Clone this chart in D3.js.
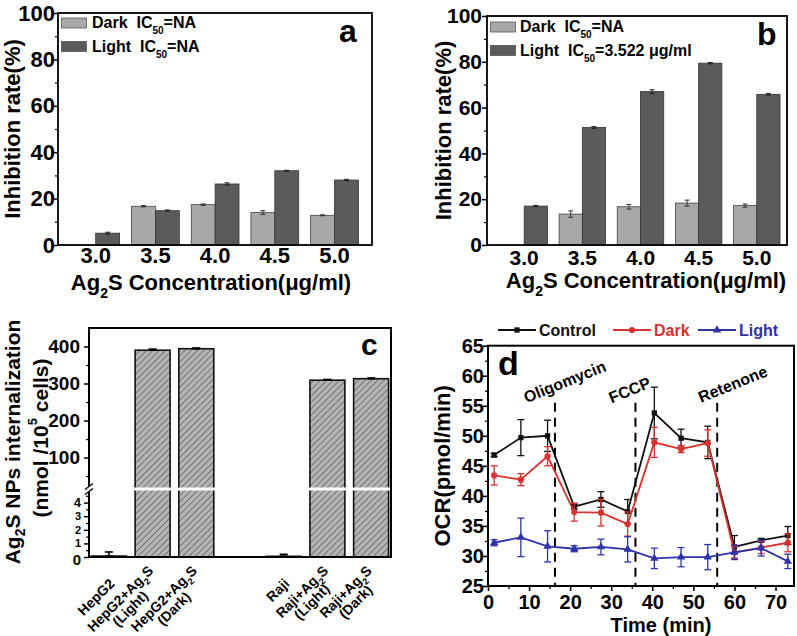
<!DOCTYPE html>
<html>
<head>
<meta charset="utf-8">
<script src="https://cdn.jsdelivr.net/npm/d3@7"></script>
<style>
body { margin: 0; background: #fff; }
svg text { font-family: "Liberation Sans", Arial, sans-serif; font-weight: bold; }
</style>
</head>
<body>
<svg id="fig" width="797" height="636"></svg>
<script>
// ---- data ----
const concentrations = [3.0, 3.5, 4.0, 4.5, 5.0];
const concLabels = ["3.0", "3.5", "4.0", "4.5", "5.0"];
const rateTicks = [0, 20, 40, 60, 80, 100];
const rateMinor = [10, 30, 50, 70, 90];

// panel a
const aDark = [0, 16.7, 17.4, 14.0, 12.8];
const aDarkErr = [0, 0.3, 0.3, 0.8, 0.2];
const aLight = [5.1, 14.8, 26.3, 32.0, 28.0];
const aLightErr = [0.4, 0.3, 0.5, 0.2, 0.3];
// panel b
const bDark = [0, 13.5, 16.7, 18.3, 17.2];
const bDarkErr = [0, 1.4, 1.0, 1.3, 0.7];
const bLight = [17.0, 51.3, 67.0, 79.4, 65.8];
const bLightErr = [0.3, 0.4, 0.8, 0.3, 0.4];

// panel c
const cellKeys = ["hep", "hepL", "hepD", "gap", "raji", "rajiL", "rajiD"];
const cellLabels = [["HepG2"], ["HepG2+Ag{_2}S", "(Light)"], ["HepG2+Ag{_2}S", "(Dark)"], [],
                    ["Raji"], ["Raji+Ag{_2}S", "(Light)"], ["Raji+Ag{_2}S", "(Dark)"]];
const uptake = [0.07, 390, 394, null, 0.05, 309, 313];
const uptakeErr = [0.3, 3, 2, null, 0.15, 2, 2];
const uptakeTicksLow = [0, 1, 2, 3, 4];
const uptakeMinorLow = [0.5, 1.5, 2.5, 3.5, 4.5];
const uptakeTicksHigh = [100, 200, 300, 400];
const uptakeMinorHigh = [50, 150, 250, 350];

// panel d
const times = [1.5, 8, 14.5, 21, 27.5, 34, 40.5, 47, 53.5, 60, 66.5, 73];
const ocrControl = [46.8, 49.7, 50.0, 38.2, 39.4, 37.4, 53.8, 49.6, 48.9, 31.5, 32.6, 33.4];
const ocrControlErr = [0.3, 3.0, 2.6, 0.4, 1.3, 2.0, 4.3, 1.5, 2.7, 1.9, 0.3, 1.5];
const ocrDark = [43.4, 42.7, 46.6, 37.3, 37.2, 35.3, 48.9, 47.8, 48.8, 30.6, 31.4, 32.2];
const ocrDarkErr = [1.6, 1.0, 1.6, 1.5, 2.2, 2.0, 2.5, 0.6, 2.2, 1.0, 1.0, 1.5];
const ocrLight = [32.2, 33.1, 31.6, 31.2, 31.5, 31.1, 29.6, 29.8, 29.8, 30.6, 31.3, 29.1];
const ocrLightErr = [0.5, 3.2, 2.6, 0.5, 1.3, 2.1, 1.7, 1.6, 2.1, 1.2, 1.3, 1.2];
const ocrTicks = [25, 30, 35, 40, 45, 50, 55, 60, 65];
const ocrMinor = [27.5, 32.5, 37.5, 42.5, 47.5, 52.5, 57.5, 62.5];
const timeTicks = [0, 10, 20, 30, 40, 50, 60, 70];
const timeMinor = [5, 15, 25, 35, 45, 55, 65];
const injections = [
    {name: "Oligomycin", t: 16.3, labelT: 18.7, labelV: 59.0},
    {name: "FCCP", t: 35.9, labelT: 34.5, labelV: 57.6},
    {name: "Retenone", t: 55.8, labelT: 59.6, labelV: 58.6}
];

// ---- helpers ----
let svg = d3.select("#fig");
let defs = svg.append("defs");
let hatch = defs.append("pattern")
    .attr("id", "hatch")
    .attr("patternUnits", "userSpaceOnUse")
    .attr("width", 4.5).attr("height", 4.5)
    .attr("patternTransform", "rotate(45)");
hatch.append("rect").attr("width", 4.5).attr("height", 4.5).attr("fill", "#b4b4b4");
hatch.append("line").attr("x1", 0).attr("y1", 0).attr("x2", 0).attr("y2", 4.5)
    .attr("stroke", "#666").attr("stroke-width", 1.6);

// text with {_x} subscripts and {^x} superscripts
function rich(sel, str, small) {
    str.split(/(\{[_^][^}]*\})/).forEach((p) => {
        if (!p) return;
        let m = p.match(/^\{([_^])(.*)\}$/);
        if (m) {
            sel.append("tspan")
                .attr("baseline-shift", m[1] === "_" ? "sub" : "super")
                .attr("font-size", small)
                .text(m[2]);
        } else {
            sel.append("tspan").text(p);
        }
    });
    return sel;
}

function styleAxis(g, size, width) {
    g.select(".domain").remove();
    g.selectAll("line").attr("stroke", "#000").attr("stroke-width", width);
    g.attr("font-size", size).attr("font-family", null);
}

function errorBars(g, data, xf, lowf, highf, cap, color, width) {
    let eb = g.append("g").attr("stroke", color).attr("stroke-width", width);
    data.forEach((d) => {
        let cx = xf(d), y1 = lowf(d), y2 = highf(d);
        eb.append("line").attr("x1", cx).attr("x2", cx).attr("y1", y1).attr("y2", y2);
        eb.append("line").attr("x1", cx - cap / 2).attr("x2", cx + cap / 2).attr("y1", y1).attr("y2", y1);
        eb.append("line").attr("x1", cx - cap / 2).attr("x2", cx + cap / 2).attr("y1", y2).attr("y2", y2);
    });
}

// ---- panels a and b ----
function ratePanel(opt) {
    let g = svg.append("g");
    let x = d3.scaleLinear().domain(opt.xDomain).range([opt.left, opt.right]);
    let y = d3.scaleLinear().domain([0, 100]).range([opt.bottom, opt.top]);
    let bw = x(0.2) - x(0);

    let rows = concentrations.map((c, i) => ({
        c: c, dark: opt.dark[i], darkErr: opt.darkErr[i], light: opt.light[i], lightErr: opt.lightErr[i]
    }));
    let withDark = rows.filter((d) => d.dark > 0);

    g.selectAll(".dark").data(withDark).join("rect")
        .attr("x", (d) => x(d.c) - bw)
        .attr("y", (d) => y(d.dark))
        .attr("width", bw)
        .attr("height", (d) => y(0) - y(d.dark))
        .attr("fill", "#a8a8a8").attr("stroke", "#444").attr("stroke-width", 0.8);
    g.selectAll(".light").data(rows).join("rect")
        .attr("x", (d) => x(d.c))
        .attr("y", (d) => y(d.light))
        .attr("width", bw)
        .attr("height", (d) => y(0) - y(d.light))
        .attr("fill", "#5b5b5b").attr("stroke", "#333").attr("stroke-width", 0.8);

    errorBars(g, withDark, (d) => x(d.c) - bw / 2, (d) => y(d.dark - d.darkErr), (d) => y(d.dark + d.darkErr), 5, "#333", 1);
    errorBars(g, rows, (d) => x(d.c) + bw / 2, (d) => y(d.light - d.lightErr), (d) => y(d.light + d.lightErr), 5, "#222", 1);

    let ya = g.append("g").attr("transform", "translate(" + opt.left + ",0)")
        .call(d3.axisLeft(y).tickValues(rateTicks).tickSize(5).tickPadding(opt.tickPad).tickSizeOuter(0));
    styleAxis(ya, opt.tickFont, 1.5);
    let ym = g.append("g").attr("transform", "translate(" + opt.left + ",0)")
        .call(d3.axisLeft(y).tickValues(rateMinor).tickSize(3).tickFormat("").tickSizeOuter(0));
    styleAxis(ym, 10, 1.2);

    g.append("rect")
        .attr("x", opt.left).attr("y", opt.top)
        .attr("width", opt.right - opt.left).attr("height", opt.bottom - opt.top)
        .attr("fill", "none").attr("stroke", "#000").attr("stroke-width", 1.8);

    g.selectAll(".xl").data(concentrations).join("text")
        .attr("x", (d) => x(d))
        .attr("y", opt.bottom + opt.xLabelDy)
        .attr("text-anchor", "middle")
        .attr("font-size", opt.tickFont)
        .text((d, i) => concLabels[i]);

    rich(g.append("text")
        .attr("x", (opt.left + opt.right) / 2 + opt.titleShift)
        .attr("y", opt.titleY)
        .attr("text-anchor", "middle")
        .attr("font-size", 22), "Ag{_2}S Concentration(\u03bcg/ml)", 14);

    g.append("text")
        .attr("transform", "translate(" + opt.yTitleX + "," + (opt.top + opt.bottom) / 2 + ") rotate(-90)")
        .attr("text-anchor", "middle")
        .attr("dominant-baseline", "central")
        .attr("font-size", 22)
        .text("Inhibition rate(%)");

    // legend
    let leg = [{fill: "#a8a8a8", text: "Dark  IC{_50}=NA"}, {fill: "#5b5b5b", text: opt.lightLegend}];
    leg.forEach((d, i) => {
        let ly = opt.legendY + i * 23.5;
        g.append("rect").attr("x", opt.left + 3.5).attr("y", ly - 10)
            .attr("width", 25).attr("height", 10)
            .attr("fill", d.fill).attr("stroke", "#555").attr("stroke-width", 0.8);
        rich(g.append("text").attr("x", opt.left + opt.legendTextDx).attr("y", ly)
            .attr("font-size", 16).style("white-space", "pre"), d.text, 10);
    });

    g.append("text").attr("x", opt.letterX).attr("y", opt.letterY)
        .attr("font-size", 32).text(opt.letter);
}

ratePanel({
    left: 58, right: 372, top: 13, bottom: 245, xDomain: [2.684, 5.314],
    dark: aDark, darkErr: aDarkErr, light: aLight, lightErr: aLightErr,
    tickFont: 22, tickPad: -2, xLabelDy: 18, titleY: 290, titleShift: -4, yTitleX: 12,
    legendY: 28, legendTextDx: 34, lightLegend: "Light  IC{_50}=NA",
    letter: "a", letterX: 339, letterY: 42
});
ratePanel({
    left: 487, right: 787, top: 16, bottom: 245, xDomain: [2.68, 5.26],
    dark: bDark, darkErr: bDarkErr, light: bLight, lightErr: bLightErr,
    tickFont: 21, tickPad: 0, xLabelDy: 20, titleY: 288, titleShift: 9, yTitleX: 443,
    legendY: 32, legendTextDx: 33, lightLegend: "Light  IC{_50}=3.522 \u03bcg/ml",
    letter: "b", letterX: 757, letterY: 45
});

// ---- panel c ----
(function() {
    let g = svg.append("g");
    let left = 89, right = 391, top = 328, bottom = 557, brk = 489;
    let x = d3.scaleBand().domain(cellKeys).range([left, right]).paddingInner(0.2).paddingOuter(0.055);
    let yLow = d3.scaleLinear().domain([0, 5]).range([bottom, brk]);
    let yHigh = d3.scaleLinear().domain([15, 450]).range([brk, top]);
    let yv = (v) => v <= 5 ? yLow(v) : yHigh(v);

    let rows = cellKeys.map((k, i) => ({k: k, v: uptake[i], e: uptakeErr[i], lines: cellLabels[i]}));
    let bars = rows.filter((d) => d.v !== null);

    g.selectAll(".bar").data(bars).join("rect")
        .attr("x", (d) => x(d.k))
        .attr("y", (d) => yv(d.v))
        .attr("width", x.bandwidth())
        .attr("height", (d) => bottom - yv(d.v))
        .attr("fill", "url(#hatch)")
        .attr("stroke", "#111").attr("stroke-width", 1.6);

    errorBars(g, bars, (d) => x(d.k) + x.bandwidth() / 2, (d) => yv(d.v), (d) => yv(d.v + d.e), 8, "#000", 1.6);

    // axis break across the bars
    g.append("rect").attr("x", left + 1).attr("y", brk - 1.5)
        .attr("width", right - left - 2).attr("height", 3).attr("fill", "#fff");

    let a1 = g.append("g").attr("transform", "translate(" + left + ",0)")
        .call(d3.axisLeft(yHigh).tickValues(uptakeTicksHigh).tickSize(5).tickPadding(4).tickSizeOuter(0));
    styleAxis(a1, 19, 1.5);
    let a2 = g.append("g").attr("transform", "translate(" + left + ",0)")
        .call(d3.axisLeft(yHigh).tickValues(uptakeMinorHigh).tickSize(3).tickFormat("").tickSizeOuter(0));
    styleAxis(a2, 10, 1.2);
    let a3 = g.append("g").attr("transform", "translate(" + left + ",0)")
        .call(d3.axisLeft(yLow).tickValues(uptakeTicksLow).tickFormat(d3.format("d"))
            .tickSize(5).tickPadding(3).tickSizeOuter(0));
    styleAxis(a3, 11, 1.5);
    a3.selectAll("text").filter((d) => d === 0).attr("font-size", 15).attr("dy", "0.5em");
    a3.selectAll("text").filter((d) => d === 4).attr("font-size", 13);
    let a4 = g.append("g").attr("transform", "translate(" + left + ",0)")
        .call(d3.axisLeft(yLow).tickValues(uptakeMinorLow).tickSize(3).tickFormat("").tickSizeOuter(0));
    styleAxis(a4, 10, 1.2);

    g.append("rect").attr("x", left).attr("y", top)
        .attr("width", right - left).attr("height", bottom - top)
        .attr("fill", "none").attr("stroke", "#000").attr("stroke-width", 2);
    // break marks on the left axis
    g.append("rect").attr("x", left - 2).attr("y", brk - 2.5).attr("width", 4).attr("height", 5).attr("fill", "#fff");
    [-2.5, 2.5].forEach((o) => {
        g.append("line").attr("x1", left - 4).attr("x2", left + 4)
            .attr("y1", brk + o + 3).attr("y2", brk + o - 3)
            .attr("stroke", "#000").attr("stroke-width", 1.3);
    });

    // rotated category labels, lines centred in a block rotated 45 degrees
    let lh = 14;
    bars.forEach((d) => {
        let n = d.lines.length;
        let cx = x(d.k) + x.bandwidth() / 2;
        let lg = g.append("g");
        let texts = d.lines.map((line, i) => rich(lg.append("text")
            .attr("y", (i - (n - 1) / 2) * lh + 5)
            .attr("text-anchor", "middle")
            .attr("font-size", 14), line, 9));
        let w = d3.max(texts, (t) => t.node().getComputedTextLength());
        texts.forEach((t) => t.attr("x", -w / 2));
        lg.attr("transform", "translate(" + (cx + 3) + "," + (581 - (n - 1) * 8) + ") rotate(-45)");
    });

    // axis title
    rich(g.append("text")
        .attr("transform", "translate(12," + 442 + ") rotate(-90)")
        .attr("text-anchor", "middle").attr("dominant-baseline", "central")
        .attr("font-size", 21), "Ag{_2}S NPs internalization", 14);
    rich(g.append("text")
        .attr("transform", "translate(40," + 438 + ") rotate(-90)")
        .attr("text-anchor", "middle").attr("dominant-baseline", "central")
        .attr("font-size", 21).style("white-space", "pre"), "(nmol /10{^5} cells)", 13);

    g.append("text").attr("x", 361).attr("y", 355).attr("font-size", 30).text("c");
})();

// ---- panel d ----
(function() {
    let g = svg.append("g");
    let left = 488, right = 794, top = 345.7, bottom = 586;
    let x = d3.scaleLinear().domain([0, 74.5]).range([left, right]);
    let y = d3.scaleLinear().domain([25, 65]).range([bottom, top]);

    let series = [
        {name: "Control", v: ocrControl, e: ocrControlErr, color: "#111", sym: d3.symbolSquare, size: 28},
        {name: "Dark", v: ocrDark, e: ocrDarkErr, color: "#d8312e", sym: d3.symbolCircle, size: 30},
        {name: "Light", v: ocrLight, e: ocrLightErr, color: "#2f33a8", sym: d3.symbolTriangle, size: 30}
    ];

    // injections
    injections.forEach((inj) => {
        g.append("line")
            .attr("x1", x(inj.t)).attr("x2", x(inj.t))
            .attr("y1", y(55.5)).attr("y2", bottom)
            .attr("stroke", "#000").attr("stroke-width", 2)
            .attr("stroke-dasharray", "9,6");
        g.append("text")
            .attr("transform", "translate(" + x(inj.labelT) + "," + y(inj.labelV) + ") rotate(-22)")
            .attr("text-anchor", "middle").attr("dominant-baseline", "central")
            .attr("font-size", 16).text(inj.name);
    });

    let line = d3.line().x((d) => x(d.t)).y((d) => y(d.v));
    series.forEach((s) => {
        let pts = times.map((t, i) => ({t: t, v: s.v[i], e: s.e[i]}));
        errorBars(g, pts, (d) => x(d.t), (d) => y(d.v - d.e), (d) => y(d.v + d.e), 7, s.color, 1.3);
        g.append("path").datum(pts).attr("d", line)
            .attr("fill", "none").attr("stroke", s.color).attr("stroke-width", 1.8);
        g.selectAll(null).data(pts).join("path")
            .attr("transform", (d) => "translate(" + x(d.t) + "," + y(d.v) + ")")
            .attr("d", d3.symbol().type(s.sym).size(s.size))
            .attr("fill", s.color);
    });

    let ya = g.append("g").attr("transform", "translate(" + left + ",0)")
        .call(d3.axisLeft(y).tickValues(ocrTicks).tickSize(5).tickPadding(-1).tickSizeOuter(0));
    styleAxis(ya, 20, 1.6);
    let ym = g.append("g").attr("transform", "translate(" + left + ",0)")
        .call(d3.axisLeft(y).tickValues(ocrMinor).tickSize(3).tickFormat("").tickSizeOuter(0));
    styleAxis(ym, 10, 1.3);
    let xa = g.append("g").attr("transform", "translate(0," + bottom + ")")
        .call(d3.axisBottom(x).tickValues(timeTicks).tickSize(5).tickPadding(4).tickSizeOuter(0));
    styleAxis(xa, 20, 1.6);
    let xm = g.append("g").attr("transform", "translate(0," + bottom + ")")
        .call(d3.axisBottom(x).tickValues(timeMinor).tickSize(3).tickFormat("").tickSizeOuter(0));
    styleAxis(xm, 10, 1.3);

    g.append("rect").attr("x", left).attr("y", top)
        .attr("width", right - left).attr("height", bottom - top)
        .attr("fill", "none").attr("stroke", "#000").attr("stroke-width", 2);

    g.append("text").attr("x", (left + right) / 2 + 20).attr("y", 632)
        .attr("text-anchor", "middle").attr("font-size", 20).text("Time (min)");
    g.append("text")
        .attr("transform", "translate(442," + (top + bottom) / 2 + ") rotate(-90)")
        .attr("text-anchor", "middle").attr("dominant-baseline", "central")
        .attr("font-size", 22).text("OCR(pmol/min)");
    g.append("text").attr("x", 498).attr("y", 375).attr("font-size", 34).text("d");

    // legend
    let legX = [498, 613, 698];
    series.forEach((s, i) => {
        let lx = legX[i], ly = 330;
        g.append("line").attr("x1", lx).attr("x2", lx + 38).attr("y1", ly).attr("y2", ly)
            .attr("stroke", s.color).attr("stroke-width", 1.8);
        g.append("path").attr("transform", "translate(" + (lx + 19) + "," + ly + ")")
            .attr("d", d3.symbol().type(s.sym).size(s.size)).attr("fill", s.color);
        g.append("text").attr("x", lx + 41).attr("y", ly + 6)
            .attr("font-size", 16).style("fill", s.color).text(s.name);
    });
})();
</script>
</body>
</html>
